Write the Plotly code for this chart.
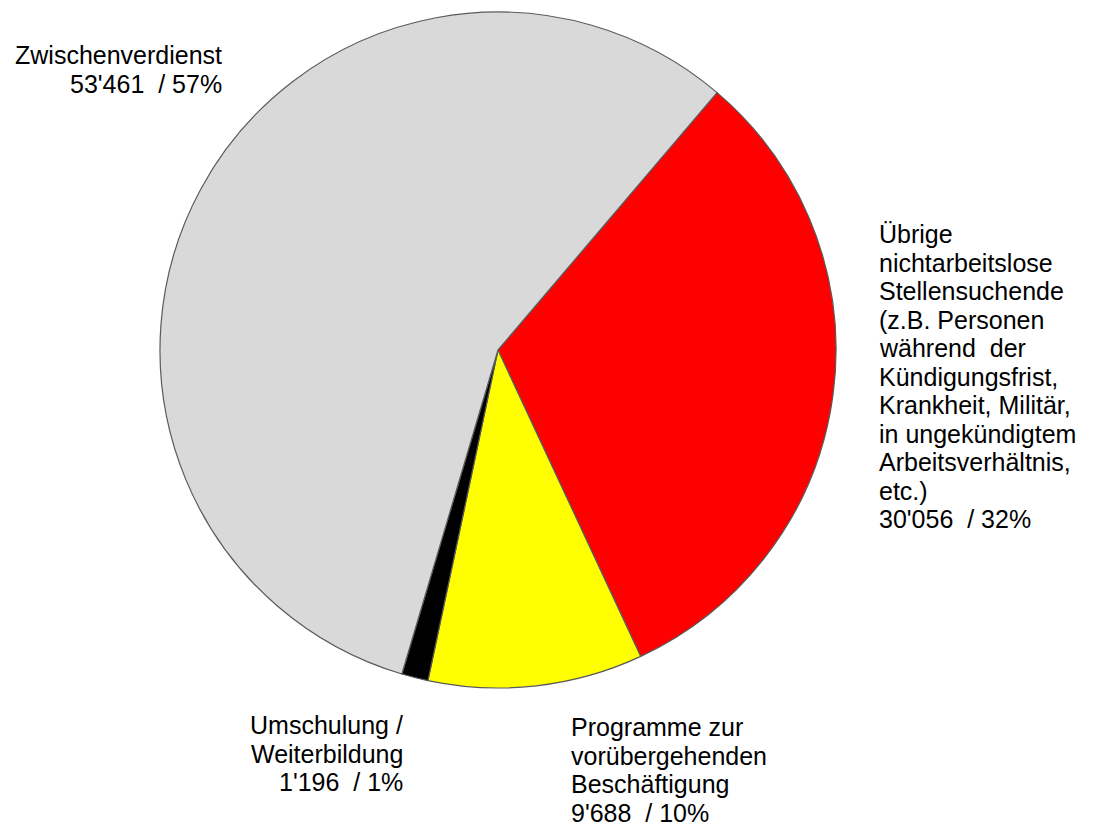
import plotly.graph_objects as go

# ---- data ----
categories = ["Übrige nichtarbeitslose Stellensuchende", "Programme zur vorübergehenden Beschäftigung",
              "Umschulung / Weiterbildung", "Zwischenverdienst"]
values = [30056, 9688, 1196, 53461]
label_lines = [
    ["Übrige", "nichtarbeitslose", "Stellensuchende", "(z.B. Personen", "während  der",
     "Kündigungsfrist,", "Krankheit, Militär,", "in ungekündigtem", "Arbeitsverhältnis,", "etc.)"],
    ["Programme zur", "vorübergehenden", "Beschäftigung"],
    ["Umschulung /", "Weiterbildung"],
    ["Zwischenverdienst"],
]
colors = ["#FF0000", "#FFFF00", "#000000", "#D9D9D9"]

# ---- layout helpers (pixel geometry, page coordinates) ----
OFF = 8  # default body margin of the html page
W, H = 1093 - OFF, 832 - OFF
cx, cy, r = 498 - OFF, 350 - OFF, 338
label_pos = [  # (x px, first baseline px, anchor) in page coords
    (879, 243, "left"),
    (571, 736, "left"),
    (403, 734, "right"),
    (222, 64, "right"),
]
line_step = 28.5
font_size = 25
FONT = "Liberation Sans, Arial, sans-serif"

total = sum(values)


def fmt(v):
    s = f"{v:,}".replace(",", "'")
    return f"{s}  / {round(100 * v / total):.0f}%"


fig = go.Figure(go.Pie(
    labels=categories,
    values=values,
    sort=False,
    direction="clockwise",
    rotation=40.4,
    marker=dict(colors=colors, line=dict(color="#5a5a5a", width=1.2)),
    textinfo="none",
    hoverinfo="label+value+percent",
    showlegend=False,
    domain=dict(x=[(cx - r) / W, (cx + r) / W], y=[(H - cy - r) / H, (H - cy + r) / H]),
))

annotations = []
for lines, v, (px, base, anchor) in zip(label_lines, values, label_pos):
    all_lines = lines + [fmt(v)]
    for i, t in enumerate(all_lines):
        b = base + i * line_step - OFF
        mid = b - 0.3465 * font_size
        annotations.append(dict(
            x=(px - OFF) / W, y=1 - mid / H, xref="paper", yref="paper",
            text=t, showarrow=False, xanchor=anchor, yanchor="middle",
            align=anchor, borderpad=0, borderwidth=0,
            font=dict(family=FONT, size=font_size, color="#000000"),
        ))

fig.update_layout(
    width=W, height=H,
    margin=dict(l=0, r=0, t=0, b=0),
    paper_bgcolor="white", plot_bgcolor="white",
    annotations=annotations,
)

fig.write_html("out.html")
